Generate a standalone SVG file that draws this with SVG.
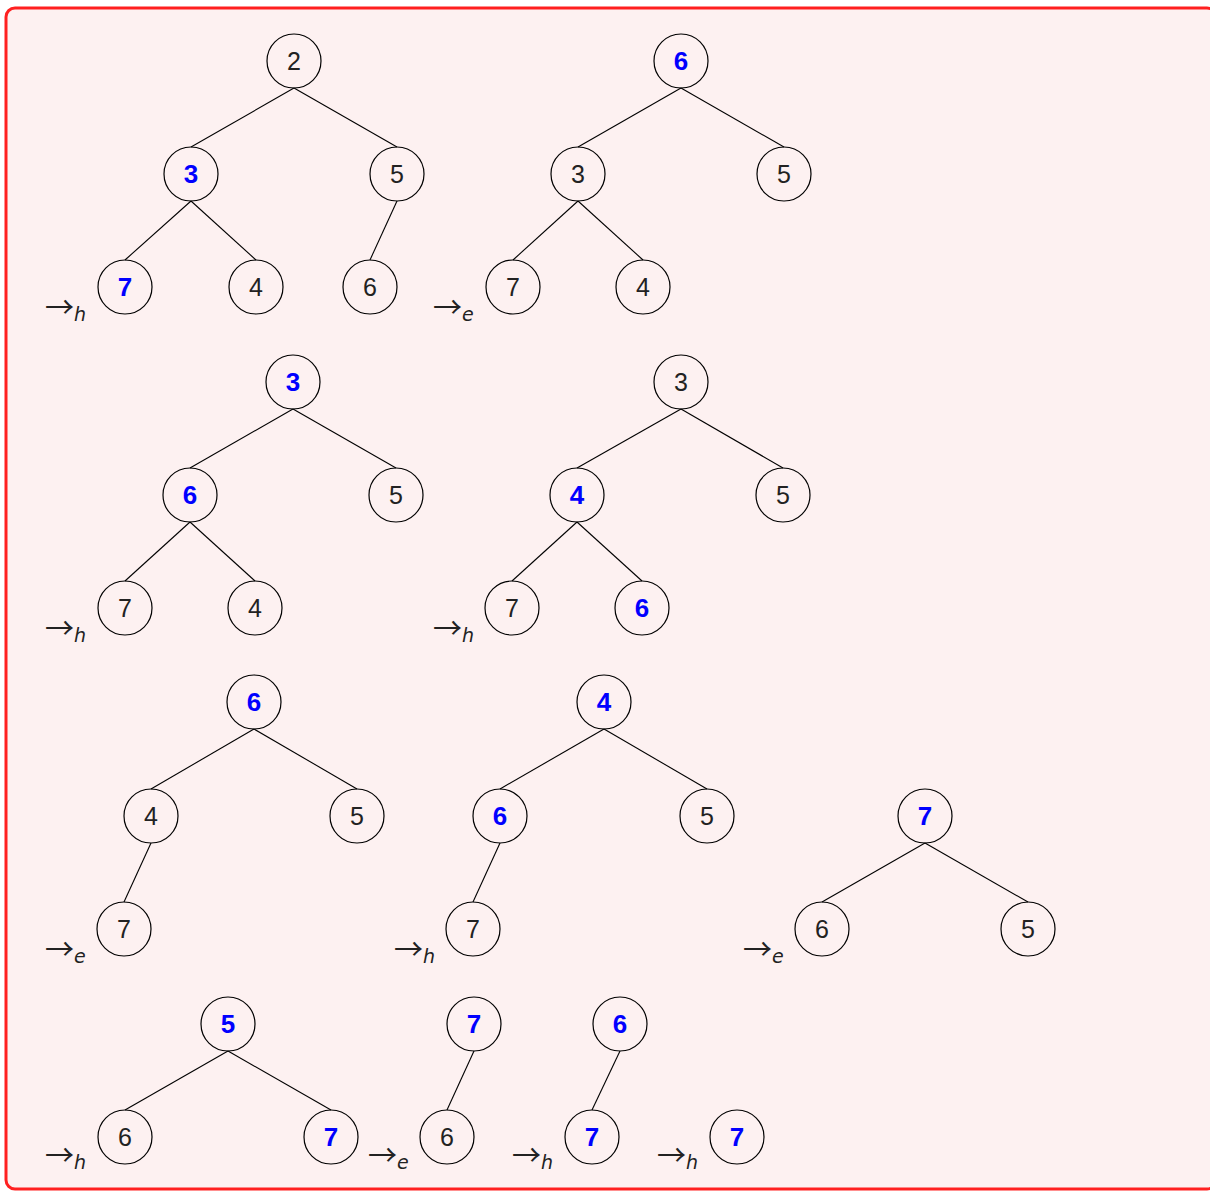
<svg xmlns="http://www.w3.org/2000/svg" width="1210" height="1191" viewBox="0 0 1210 1191">
<style>
.n circle{fill:none;stroke:#000;stroke-width:1.2}
.n text{font-family:"Liberation Sans",Arial,sans-serif;font-size:25px;text-anchor:middle;fill:#222}
.n text.h{fill:#0000ff;font-weight:bold;font-size:26px}
.e line{stroke:#000;stroke-width:1.1}
.lab{font-family:"Noto Sans CJK SC","DejaVu Sans",sans-serif;font-size:29px;fill:#222}
.lab tspan{font-family:"DejaVu Sans",sans-serif;font-size:19px;font-style:italic}
</style>
<rect x="6" y="8" width="1210" height="1181" rx="9" fill="#fdf1f1" stroke="#ff2020" stroke-width="3"/>
<g id="edges" class="e">
<line x1="294" y1="88" x2="191" y2="147"/><line x1="294" y1="88" x2="397" y2="147"/>
<line x1="191" y1="201" x2="125" y2="260"/><line x1="191" y1="201" x2="256" y2="260"/>
<line x1="397" y1="201" x2="370" y2="260"/>
<line x1="681" y1="88" x2="578" y2="147"/><line x1="681" y1="88" x2="784" y2="147"/>
<line x1="578" y1="201" x2="513" y2="260"/><line x1="578" y1="201" x2="643" y2="260"/>
<line x1="293" y1="409" x2="190" y2="468"/><line x1="293" y1="409" x2="396" y2="468"/>
<line x1="190" y1="522" x2="125" y2="581"/><line x1="190" y1="522" x2="255" y2="581"/>
<line x1="681" y1="409" x2="577" y2="468"/><line x1="681" y1="409" x2="783" y2="468"/>
<line x1="577" y1="522" x2="512" y2="581"/><line x1="577" y1="522" x2="642" y2="581"/>
<line x1="254" y1="729" x2="151" y2="789"/><line x1="254" y1="729" x2="357" y2="789"/>
<line x1="151" y1="843" x2="124" y2="902"/>
<line x1="604" y1="729" x2="500" y2="789"/><line x1="604" y1="729" x2="707" y2="789"/>
<line x1="500" y1="843" x2="473" y2="902"/>
<line x1="925" y1="843" x2="822" y2="902"/><line x1="925" y1="843" x2="1028" y2="902"/>
<line x1="228" y1="1051" x2="125" y2="1110"/><line x1="228" y1="1051" x2="331" y2="1110"/>
<line x1="474" y1="1051" x2="447" y2="1110"/>
<line x1="620" y1="1051" x2="592" y2="1110"/>
</g>
<g id="t1" class="n">
<circle cx="294" cy="61" r="27"/><text x="294" y="70">2</text>
<circle cx="191" cy="174" r="27"/><text class="h" x="191" y="183">3</text>
<circle cx="397" cy="174" r="27"/><text x="397" y="183">5</text>
<circle cx="125" cy="287" r="27"/><text class="h" x="125" y="296">7</text>
<circle cx="256" cy="287" r="27"/><text x="256" y="296">4</text>
<circle cx="370" cy="287" r="27"/><text x="370" y="296">6</text>
</g>
<g id="t2" class="n">
<circle cx="681" cy="61" r="27"/><text class="h" x="681" y="70">6</text>
<circle cx="578" cy="174" r="27"/><text x="578" y="183">3</text>
<circle cx="784" cy="174" r="27"/><text x="784" y="183">5</text>
<circle cx="513" cy="287" r="27"/><text x="513" y="296">7</text>
<circle cx="643" cy="287" r="27"/><text x="643" y="296">4</text>
</g>
<g id="t3" class="n">
<circle cx="293" cy="382" r="27"/><text class="h" x="293" y="391">3</text>
<circle cx="190" cy="495" r="27"/><text class="h" x="190" y="504">6</text>
<circle cx="396" cy="495" r="27"/><text x="396" y="504">5</text>
<circle cx="125" cy="608" r="27"/><text x="125" y="617">7</text>
<circle cx="255" cy="608" r="27"/><text x="255" y="617">4</text>
</g>
<g id="t4" class="n">
<circle cx="681" cy="382" r="27"/><text x="681" y="391">3</text>
<circle cx="577" cy="495" r="27"/><text class="h" x="577" y="504">4</text>
<circle cx="783" cy="495" r="27"/><text x="783" y="504">5</text>
<circle cx="512" cy="608" r="27"/><text x="512" y="617">7</text>
<circle cx="642" cy="608" r="27"/><text class="h" x="642" y="617">6</text>
</g>
<g id="t5" class="n">
<circle cx="254" cy="702" r="27"/><text class="h" x="254" y="711">6</text>
<circle cx="151" cy="816" r="27"/><text x="151" y="825">4</text>
<circle cx="357" cy="816" r="27"/><text x="357" y="825">5</text>
<circle cx="124" cy="929" r="27"/><text x="124" y="938">7</text>
</g>
<g id="t6" class="n">
<circle cx="604" cy="702" r="27"/><text class="h" x="604" y="711">4</text>
<circle cx="500" cy="816" r="27"/><text class="h" x="500" y="825">6</text>
<circle cx="707" cy="816" r="27"/><text x="707" y="825">5</text>
<circle cx="473" cy="929" r="27"/><text x="473" y="938">7</text>
</g>
<g id="t7" class="n">
<circle cx="925" cy="816" r="27"/><text class="h" x="925" y="825">7</text>
<circle cx="822" cy="929" r="27"/><text x="822" y="938">6</text>
<circle cx="1028" cy="929" r="27"/><text x="1028" y="938">5</text>
</g>
<g id="t8" class="n">
<circle cx="228" cy="1024" r="27"/><text class="h" x="228" y="1033">5</text>
<circle cx="125" cy="1137" r="27"/><text x="125" y="1146">6</text>
<circle cx="331" cy="1137" r="27"/><text class="h" x="331" y="1146">7</text>
</g>
<g id="t9" class="n">
<circle cx="474" cy="1024" r="27"/><text class="h" x="474" y="1033">7</text>
<circle cx="447" cy="1137" r="27"/><text x="447" y="1146">6</text>
</g>
<g id="t10" class="n">
<circle cx="620" cy="1024" r="27"/><text class="h" x="620" y="1033">6</text>
<circle cx="592" cy="1137" r="27"/><text class="h" x="592" y="1146">7</text>
</g>
<g id="t11" class="n">
<circle cx="737" cy="1137" r="27"/><text class="h" x="737" y="1146">7</text>
</g>
<g id="labels" class="lab">
<text x="45" y="318">→<tspan dy="3">h</tspan></text>
<text x="433" y="318">→<tspan dy="3">e</tspan></text>
<text x="45" y="639">→<tspan dy="3">h</tspan></text>
<text x="433" y="639">→<tspan dy="3">h</tspan></text>
<text x="45" y="960">→<tspan dy="3">e</tspan></text>
<text x="394" y="960">→<tspan dy="3">h</tspan></text>
<text x="743" y="960">→<tspan dy="3">e</tspan></text>
<text x="45" y="1166">→<tspan dy="3">h</tspan></text>
<text x="368" y="1166">→<tspan dy="3">e</tspan></text>
<text x="512" y="1166">→<tspan dy="3">h</tspan></text>
<text x="657" y="1166">→<tspan dy="3">h</tspan></text>
</g>
</svg>
